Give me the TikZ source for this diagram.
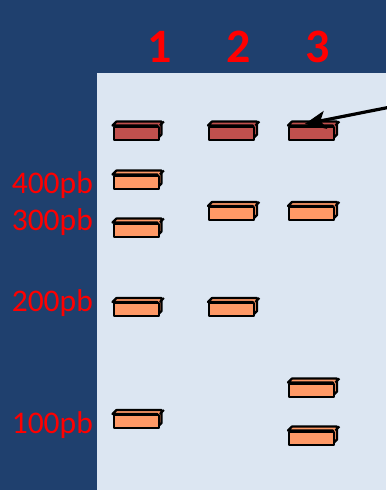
\documentclass[tikz,border=0pt]{standalone}
\usepackage{fontspec}
\setmainfont{Carlito}
\usetikzlibrary{arrows.meta,calc}
\definecolor{bgblue}{RGB}{31,64,110}
\definecolor{panel}{RGB}{220,230,242}
\definecolor{bandred}{RGB}{192,80,77}
\definecolor{bandorange}{RGB}{255,153,102}
\tikzset{
  bandbox/.style={draw=black,line width=2.4pt,minimum width=45pt,minimum height=13pt,inner sep=0pt,anchor=north west,line join=round},
  bandface/.style={draw=black,line width=2.2pt,line join=round},
  lanelabel/.style={text=red,font=\bfseries\fontsize{48}{50}\selectfont,anchor=base,inner sep=0pt},
  sizelabel/.style={text=red,font=\fontsize{31.5}{33}\selectfont,anchor=base east,inner sep=0pt},
}
\newcommand{\gelband}[4]{%
  \filldraw[bandface,fill=#4] (#2,#3) -- ++(4,-4) -- ++(45,0) -- ++(0,13) -- ++(-4,4) -- ++(0,-13) -- cycle;
  \node[bandbox,fill=#4] (#1) at (#2,#3) {};
  \draw[bandface] (#1.north east) -- ++(4,-4);
}
\begin{document}
\begin{tikzpicture}[x=1pt,y=-1pt]
\fill[bgblue] (0,0) rectangle (386,490);
\useasboundingbox (0,0) rectangle (386,490);
\fill[panel] (97,73) rectangle (386,490);
% lane numbers
\node[lanelabel] (l1) at (160,62.5) {1};
\node[lanelabel] (l2) at (238.5,62.5) {2};
\node[lanelabel] (l3) at (318,62.5) {3};
% size labels
\node[sizelabel] (s400) at (93,193) {400pb};
\node[sizelabel] (s300) at (93,230.5) {300pb};
\node[sizelabel] (s200) at (93,311.5) {200pb};
\node[sizelabel] (s100) at (93,433) {100pb};
% lane 1
\gelband{aR}{112.5}{125.5}{bandred}
\gelband{a400}{112.5}{174.5}{bandorange}
\gelband{a300}{112.5}{222.5}{bandorange}
\gelband{a200}{112.5}{302}{bandorange}
\gelband{a100}{112.5}{414}{bandorange}
% lane 2
\gelband{bR}{208}{125.5}{bandred}
\gelband{bX}{208}{206}{bandorange}
\gelband{bY}{208}{302}{bandorange}
% lane 3
\gelband{cR}{288}{125.5}{bandred}
\gelband{cX}{288}{206}{bandorange}
\gelband{cY}{288}{382.5}{bandorange}
\gelband{cZ}{288}{430.5}{bandorange}
% arrow
\coordinate (arrstart) at (388,107.5);
\draw[line width=3.2pt,-{Stealth[length=21pt,width=18pt,inset=5pt]}] (arrstart) -- ($(cR.north)+(-7,-1.5)$);
\end{tikzpicture}
\end{document}
